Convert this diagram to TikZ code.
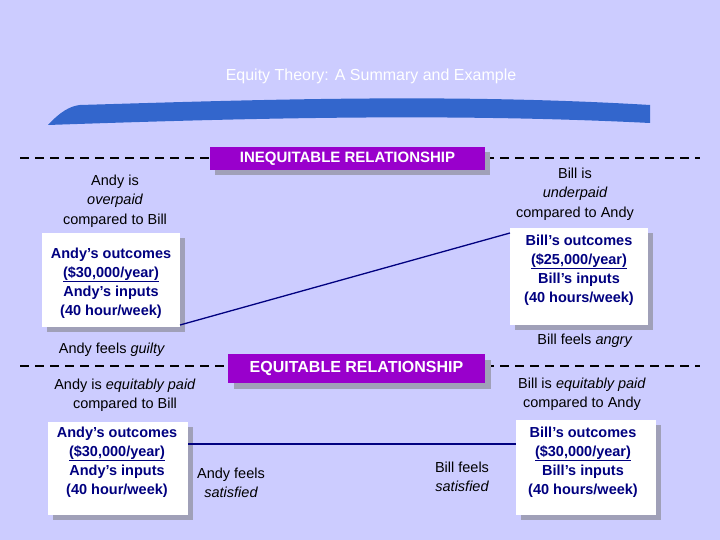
\documentclass[tikz,border=0pt]{standalone}
\usepackage{fontspec}
\setmainfont{Liberation Sans}
\begin{document}
\begin{tikzpicture}[x=1pt,y=-1pt,
  card/.style={fill=white,draw=none,align=center,text=navy,font=\fontsize{14.5}{19}\selectfont\bfseries,inner sep=0pt},
  lbl/.style={align=center,font=\fontsize{14.5}{19.5}\selectfont,text=black}]
\definecolor{bg}{HTML}{CCCCFF}
\definecolor{navy}{HTML}{000080}
\definecolor{swoosh}{HTML}{3366CC}
\definecolor{shad}{HTML}{A0A0B8}
\definecolor{tagc}{HTML}{9900CC}
\fill[bg] (0,0) rectangle (720,540);
\useasboundingbox (0,0) rectangle (720,540);
\node[text=white,font=\fontsize{16}{18}\selectfont] (title) at (371,76) {Equity Theory: A Summary and Example};
\fill[swoosh] (48,125) .. controls (60,112) and (70,106) .. (80,105) .. controls (250,100) and (450,93) .. (650,105) -- (650,123) .. controls (450,113) and (250,118) .. (48,125) -- cycle;
% dashed lines
\draw[dash pattern=on 9pt off 6pt,line width=1.5pt] (20,158) -- (700,158);
\draw[dash pattern=on 9pt off 6pt,line width=1.5pt] (20,366) -- (700,366);
% tags
\fill[shad] (215,152) rectangle (490,175);
\fill[tagc] (210,147) rectangle (485,170);
\node[text=white,font=\fontsize{15}{17}\selectfont\bfseries] (t1) at (347.5,158.5) {INEQUITABLE RELATIONSHIP};
\fill[shad] (234,360) rectangle (491,389);
\fill[tagc] (228,354) rectangle (485,383);
\node[text=white,font=\fontsize{16}{18}\selectfont\bfseries] (t2) at (356.5,368.5) {EQUITABLE RELATIONSHIP};
% cards
\fill[shad] (47,238) rectangle (185,332);
\fill[white] (42,233) rectangle (180,327);
\node[card] (a1) at (111,283) {Andy’s outcomes\\\underline{(\$30,000/year)}\\Andy’s inputs\\(40 hour/week)};
\fill[shad] (515,233) rectangle (653,330);
\fill[white] (510,228) rectangle (648,325);
\node[card] (b1) at (579,270) {Bill’s outcomes\\\underline{(\$25,000/year)}\\Bill’s inputs\\(40 hours/week)};
\fill[shad] (53,427) rectangle (193,520);
\fill[white] (48,422) rectangle (188,515);
\node[card] (a2) at (117,462) {Andy’s outcomes\\\underline{(\$30,000/year)}\\Andy’s inputs\\(40 hour/week)};
\fill[shad] (521,425) rectangle (661,520);
\fill[white] (516,420) rectangle (656,515);
\node[card] (b2) at (583,462) {Bill’s outcomes\\\underline{(\$30,000/year)}\\Bill’s inputs\\(40 hours/week)};
\coordinate (p1) at (180,325); \coordinate (p2) at (510,233);
\coordinate (q1) at (188,444); \coordinate (q2) at (516,444);
\draw[navy,line width=1.3pt] (p1) -- (p2);
\draw[navy,line width=1.1pt] (q1) -- (q2);
% labels
\node[lbl] (l1) at (115,201) {Andy is\\\itshape overpaid\\compared to Bill};
\node[lbl] (l2) at (575,194) {Bill is\\\itshape underpaid\\compared to Andy};
\node[lbl] (l3) at (112,350) {Andy feels \textit{guilty}};
\node[lbl] (l4) at (585,341) {Bill feels \textit{angry}};
\node[lbl] (l5) at (125,395) {Andy is \textit{equitably paid}\\compared to Bill};
\node[lbl] (l6) at (582,394) {Bill is \textit{equitably paid}\\compared to Andy};
\node[lbl] (l7) at (231,483) {Andy feels\\\itshape satisfied};
\node[lbl] (l8) at (462,477) {Bill feels\\\itshape satisfied};
\end{tikzpicture}
\end{document}
